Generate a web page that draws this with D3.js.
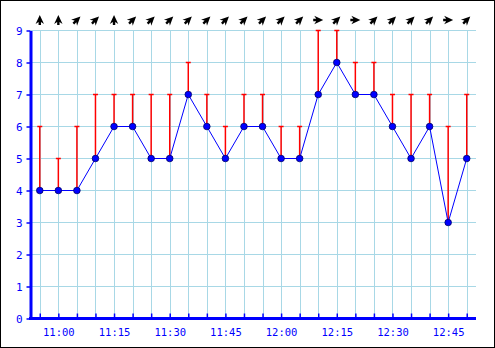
<!DOCTYPE html>
<html><head><meta charset="utf-8">
<script src="https://cdn.jsdelivr.net/npm/d3@7"></script>
<style>body{margin:0;background:#fff}svg{display:block}</style>
</head><body>
<svg id="c" width="495" height="348"></svg>
<script>
const times = ["10:55","11:00","11:05","11:10","11:15","11:20","11:25","11:30","11:35","11:40","11:45","11:50","11:55","12:00","12:05","12:10","12:15","12:20","12:25","12:30","12:35","12:40","12:45","12:50"];
const speed = [4,4,4,5,6,6,5,5,7,6,5,6,6,5,5,7,8,7,7,6,5,6,3,5];
const gust  = [6,5,6,7,7,7,7,7,8,7,6,7,7,6,6,9,9,8,8,7,7,7,6,7];
// direction the arrow points, degrees clockwise from up
const direction = [0,0,45,45,0,45,45,45,45,45,45,45,45,45,45,90,45,90,45,45,45,45,90,45];
const yTicks = [0,1,2,3,4,5,6,7,8,9];
const xLabels = ["11:00","11:15","11:30","11:45","12:00","12:15","12:30","12:45"];

const svg = d3.select("#c");
const L = 30.5, R = 476, T = 30.5, B = 318.5;
const x = d3.scalePoint().domain(times).range([L, R]).padding(0.5);
const y = d3.scaleLinear().domain([0, 9]).range([B, T]);
const font = "'DejaVu Sans Mono', monospace";

svg.append("rect").attr("x",0.5).attr("y",0.5).attr("width",494).attr("height",347)
  .attr("fill","#fff").attr("stroke","#000").attr("stroke-width",1);

// grid
const grid = svg.append("g").attr("stroke","#a8d8e6").attr("stroke-width",1).attr("shape-rendering","crispEdges");
grid.selectAll(".h").data(yTicks).join("line")
  .attr("x1",L).attr("x2",R).attr("y1",d=>y(d)).attr("y2",d=>y(d));
grid.selectAll(".v").data(times).join("line")
  .attr("x1",d=>Math.round(x(d))+0.5).attr("x2",d=>Math.round(x(d))+0.5).attr("y1",T).attr("y2",B);

// y axis
const yAxis = d3.axisLeft(y).tickValues(yTicks).tickSize(4).tickSizeOuter(0).tickPadding(4).tickFormat(d3.format("d"));
const gy = svg.append("g").attr("transform",`translate(${L},0)`).call(yAxis);
gy.select(".domain").attr("stroke","#0000ff").attr("stroke-width",3);
gy.selectAll(".tick line").attr("stroke","#0000ff").attr("stroke-width",1.5);
gy.selectAll(".tick text").attr("fill","#0000ff").attr("font-family",font).attr("font-size",11);

// x axis (ticks inward)
const xAxis = d3.axisBottom(x).tickSize(-5).tickPadding(10)
  .tickFormat(d => xLabels.includes(d) ? d : "");
const gx = svg.append("g").attr("transform",`translate(0,${B})`).call(xAxis);
gx.select(".domain").attr("stroke","#0000ff").attr("stroke-width",3).attr("d",`M${L-1.5},0H${R}`);
gx.selectAll(".tick line").attr("stroke","#0000ff").attr("stroke-width",1.5);
gx.selectAll(".tick text").attr("fill","#0000ff").attr("font-family",font).attr("font-size",10.5);

const rows = times.map((t,i)=>({t, s:speed[i], g:gust[i], d:direction[i]}));

// gust bars
const eb = svg.append("g").attr("stroke","#ff0000").attr("stroke-width",1.5);
eb.selectAll(".e").data(rows).join("line")
  .attr("x1",d=>x(d.t)).attr("x2",d=>x(d.t)).attr("y1",d=>y(d.s)).attr("y2",d=>y(d.g));
eb.selectAll(".c").data(rows).join("line")
  .attr("x1",d=>x(d.t)-2.5).attr("x2",d=>x(d.t)+2.5).attr("y1",d=>y(d.g)).attr("y2",d=>y(d.g));

// speed line
svg.append("path").datum(rows)
  .attr("fill","none").attr("stroke","#0000ff").attr("stroke-width",1)
  .attr("d", d3.line().x(d=>x(d.t)).y(d=>y(d.s)));
svg.append("g").selectAll("circle").data(rows).join("circle")
  .attr("cx",d=>x(d.t)).attr("cy",d=>y(d.s)).attr("r",3.3)
  .attr("fill","#0000ff").attr("stroke","#000066").attr("stroke-width",0.8);

// direction arrows
svg.append("g").selectAll("path").data(rows).join("path")
  .attr("transform",d=>`translate(${x(d.t)},20) rotate(${d.d})`)
  .attr("d","M0,-5L4.2,4L1.2,2L1.2,5L-1.2,5L-1.2,2L-4.2,4Z")
  .attr("fill","#000");
</script>
</body></html>
